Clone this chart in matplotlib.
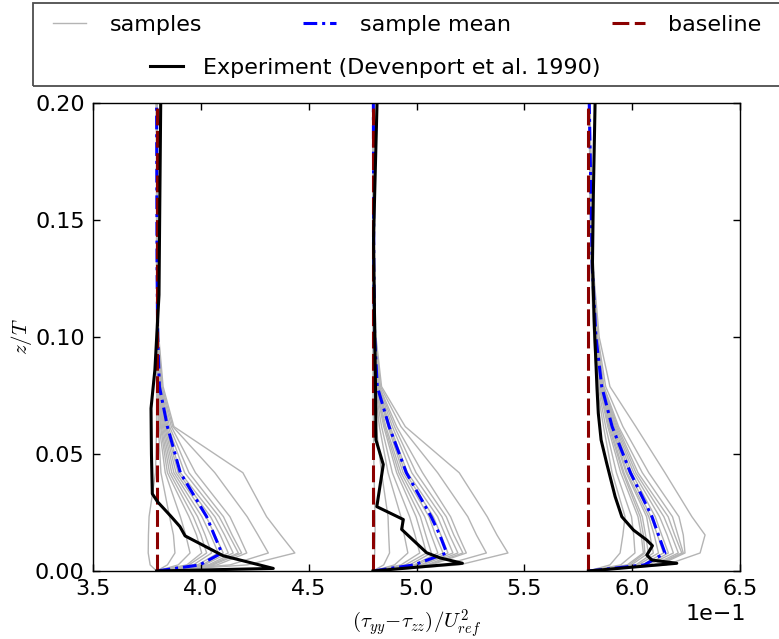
import numpy as np
import matplotlib
matplotlib.use("Agg")
import matplotlib.pyplot as plt
from matplotlib.patches import Rectangle

plt.rcParams['font.family'] = ['DejaVu Sans']
plt.rcParams['mathtext.fontset'] = 'cm'

# ---------------- data (x values in units of 1e-1, deviations from profile location) -------------
Z_LEVELS = [0.0, 0.0026, 0.0077, 0.0154, 0.0232, 0.042, 0.0617, 0.0788, 0.100, 0.130, 0.200]

PROFILE_LOCATIONS = [3.795, 4.798, 5.797]

SAMPLES_1 = [
    [0, -0.030, -0.039, -0.038, -0.035, -0.005, 0.000, 0.000, 0.000, 0.000, 0],
    [0, 0.050, 0.085, 0.078, 0.060, 0.020, 0.008, 0.003, 0.001, 0.000, 0],
    [0, 0.100, 0.155, 0.135, 0.110, 0.040, 0.012, 0.005, 0.002, 0.000, 0],
    [0, 0.140, 0.209, 0.185, 0.150, 0.050, 0.018, 0.006, 0.002, 0.001, 0],
    [0, 0.150, 0.232, 0.205, 0.170, 0.060, 0.022, 0.008, 0.003, 0.001, 0],
    [0, 0.170, 0.255, 0.225, 0.190, 0.070, 0.027, 0.009, 0.003, 0.001, 0],
    [0, 0.190, 0.286, 0.250, 0.210, 0.080, 0.032, 0.010, 0.004, 0.001, 0],
    [0, 0.210, 0.309, 0.270, 0.230, 0.090, 0.037, 0.012, 0.004, 0.001, 0],
    [0, 0.220, 0.332, 0.295, 0.250, 0.100, 0.042, 0.013, 0.005, 0.002, 0],
    [0, 0.240, 0.355, 0.315, 0.270, 0.110, 0.047, 0.015, 0.005, 0.002, 0],
    [0, 0.250, 0.379, 0.335, 0.290, 0.130, 0.053, 0.017, 0.006, 0.002, 0],
    [0, 0.260, 0.394, 0.350, 0.310, 0.150, 0.060, 0.019, 0.007, 0.002, 0],
    [0, 0.280, 0.418, 0.380, 0.340, 0.180, 0.068, 0.022, 0.008, 0.003, 0],
    [0, 0.340, 0.518, 0.470, 0.420, 0.270, 0.075, 0.025, 0.009, 0.003, 0],
    [0, 0.420, 0.641, 0.575, 0.510, 0.400, 0.080, 0.030, 0.010, 0.003, 0],
]

SAMPLES_2 = [
    [0, 0.005, 0.008, 0.010, 0.010, 0.005, 0.002, 0.000, 0.000, 0.000, 0],
    [0, 0.050, 0.077, 0.073, 0.070, 0.040, 0.015, 0.004, 0.002, 0.000, 0],
    [0, 0.100, 0.162, 0.145, 0.130, 0.070, 0.030, 0.008, 0.003, 0.001, 0],
    [0, 0.130, 0.217, 0.195, 0.170, 0.090, 0.040, 0.010, 0.004, 0.001, 0],
    [0, 0.150, 0.248, 0.225, 0.200, 0.110, 0.050, 0.012, 0.005, 0.002, 0],
    [0, 0.170, 0.271, 0.245, 0.220, 0.120, 0.055, 0.014, 0.006, 0.002, 0],
    [0, 0.190, 0.301, 0.270, 0.240, 0.130, 0.060, 0.016, 0.006, 0.002, 0],
    [0, 0.200, 0.325, 0.290, 0.260, 0.140, 0.070, 0.018, 0.007, 0.002, 0],
    [0, 0.220, 0.348, 0.315, 0.280, 0.150, 0.075, 0.020, 0.008, 0.003, 0],
    [0, 0.230, 0.371, 0.335, 0.300, 0.160, 0.080, 0.022, 0.008, 0.003, 0],
    [0, 0.250, 0.394, 0.355, 0.320, 0.180, 0.090, 0.025, 0.009, 0.003, 0],
    [0, 0.260, 0.417, 0.375, 0.340, 0.200, 0.100, 0.028, 0.010, 0.003, 0],
    [0, 0.270, 0.433, 0.395, 0.360, 0.230, 0.110, 0.030, 0.010, 0.004, 0],
    [0, 0.330, 0.526, 0.480, 0.440, 0.300, 0.130, 0.035, 0.012, 0.004, 0],
    [0, 0.400, 0.626, 0.575, 0.530, 0.400, 0.150, 0.040, 0.014, 0.005, 0],
]

SAMPLES_3 = [
    [0, 0.100, 0.147, 0.160, 0.170, 0.110, 0.070, 0.040, 0.025, 0.012, 0.003],
    [0, 0.150, 0.216, 0.210, 0.200, 0.130, 0.080, 0.045, 0.027, 0.013, 0.003],
    [0, 0.180, 0.255, 0.245, 0.230, 0.150, 0.090, 0.050, 0.029, 0.014, 0.003],
    [0, 0.190, 0.262, 0.255, 0.240, 0.160, 0.095, 0.052, 0.030, 0.015, 0.004],
    [0, 0.200, 0.278, 0.265, 0.250, 0.165, 0.100, 0.055, 0.031, 0.015, 0.004],
    [0, 0.220, 0.301, 0.285, 0.270, 0.175, 0.105, 0.057, 0.032, 0.016, 0.004],
    [0, 0.230, 0.325, 0.305, 0.280, 0.180, 0.110, 0.060, 0.034, 0.017, 0.004],
    [0, 0.250, 0.348, 0.320, 0.290, 0.190, 0.115, 0.062, 0.035, 0.018, 0.004],
    [0, 0.270, 0.371, 0.340, 0.310, 0.200, 0.120, 0.064, 0.036, 0.018, 0.004],
    [0, 0.280, 0.394, 0.365, 0.330, 0.210, 0.125, 0.066, 0.037, 0.019, 0.005],
    [0, 0.300, 0.417, 0.385, 0.350, 0.220, 0.130, 0.068, 0.038, 0.019, 0.005],
    [0, 0.310, 0.433, 0.400, 0.370, 0.230, 0.135, 0.070, 0.040, 0.020, 0.005],
    [0, 0.320, 0.440, 0.415, 0.390, 0.250, 0.140, 0.072, 0.041, 0.020, 0.005],
    [0, 0.330, 0.448, 0.440, 0.420, 0.280, 0.160, 0.080, 0.044, 0.021, 0.005],
    [0, 0.360, 0.518, 0.541, 0.480, 0.355, 0.220, 0.100, 0.050, 0.022, 0.006],
]

MEAN_1 = [0, 0.200, 0.302, 0.267, 0.232, 0.110, 0.050, 0.013, 0.005, 0.002, 0.000]
MEAN_2 = [0, 0.190, 0.342, 0.310, 0.270, 0.155, 0.075, 0.020, 0.008, 0.004, 0.002]
MEAN_3 = [0, 0.260, 0.355, 0.325, 0.295, 0.195, 0.110, 0.062, 0.035, 0.018, 0.004]

BASELINE_Z = [0.0, 0.2]
BASELINE_DEV = [0.0, 0.0]

EXP_Z_1 = [0, 0.0011, 0.0065, 0.0150, 0.0190, 0.0235, 0.0295, 0.0330, 0.050, 0.0695, 0.0860, 0.118, 0.160, 0.200]
EXP_DEV_1 = [0, 0.541, 0.309, 0.132, 0.108, 0.065, 0.005, -0.020, -0.024, -0.026, -0.008, 0.011, 0.015, 0.019]

EXP_Z_2 = [0, 0.0033, 0.0056, 0.0078, 0.0178, 0.0220, 0.0275, 0.0455, 0.056, 0.078, 0.104, 0.142, 0.161, 0.200]
EXP_DEV_2 = [0, 0.415, 0.311, 0.249, 0.133, 0.141, 0.018, 0.048, 0.014, 0.012, 0.008, 0.003, 0.008, 0.019]

EXP_Z_3 = [0, 0.0033, 0.0047, 0.0068, 0.0108, 0.0132, 0.0175, 0.0232, 0.0318, 0.046, 0.056, 0.0674, 0.078, 0.104, 0.132, 0.161, 0.200]
EXP_DEV_3 = [0, 0.410, 0.294, 0.271, 0.297, 0.271, 0.209, 0.155, 0.124, 0.085, 0.059, 0.046, 0.040, 0.028, 0.019, 0.023, 0.031]

SCALE = 1e-1

# ---------------- figure -------------
W, H = 779, 639
fig = plt.figure(figsize=(W / 100, H / 100), dpi=100)
ax = fig.add_axes([93 / W, 1 - 571 / H, (740 - 93) / W, (571 - 103) / H])

Z = np.array(Z_LEVELS)
profiles = [
    (SAMPLES_1, MEAN_1, EXP_Z_1, EXP_DEV_1),
    (SAMPLES_2, MEAN_2, EXP_Z_2, EXP_DEV_2),
    (SAMPLES_3, MEAN_3, EXP_Z_3, EXP_DEV_3),
]

h_s = h_m = h_b = h_e = None
for loc, (samples, mean, ez, ed) in zip(PROFILE_LOCATIONS, profiles):
    for s in samples:
        h_s, = ax.plot((loc + np.array(s)) * SCALE, Z, color='#b4b4b4', lw=1.0, zorder=1)
    h_m, = ax.plot((loc + np.array(mean)) * SCALE, Z, color='#0000ff', lw=2.2,
                   dashes=(4.5, 1.6, 1.0, 1.6), zorder=2)
    h_b, = ax.plot((loc + np.array(BASELINE_DEV)) * SCALE, BASELINE_Z, color='#8b0000',
                   lw=2.2, dashes=(5.5, 1.8), zorder=3)
    h_e, = ax.plot((loc + np.array(ed)) * SCALE, ez, color='k', lw=2.2, zorder=4)

ax.set_xlim(0.35, 0.65)
ax.set_ylim(0.0, 0.2)
ax.set_xticks(np.linspace(0.35, 0.65, 7))
ax.set_yticks(np.linspace(0.0, 0.2, 5))
ax.ticklabel_format(axis='x', style='sci', scilimits=(0, 0))
ax.tick_params(direction='in', top=True, right=True, length=5, width=1,
               labelsize=16, pad=6)
ax.xaxis.get_offset_text().set_fontsize(16)
ax.xaxis.get_offset_text().set_x(1.01)
for sp in ax.spines.values():
    sp.set_linewidth(1.0)

ax.set_xlabel(r'$(\tau_{yy}{-}\tau_{zz})/U_{ref}^2$', fontsize=15, labelpad=6)
ax.set_ylabel(r'$z/T$', fontsize=15, labelpad=1)

# ---------------- legend -------------
leg_kw = dict(frameon=False, fontsize=16, handlelength=1.5, borderpad=0,
              borderaxespad=0, loc='center left')
fig.legend([h_s, h_m, h_b], ['samples', 'sample mean', 'baseline'], ncol=3,
           bbox_to_anchor=(53 / W, 1 - 25 / H), handletextpad=1.04,
           columnspacing=4.55, **leg_kw)
fig.legend([h_e], ['Experiment (Devenport et al. 1990)'],
           bbox_to_anchor=(150 / W, 1 - 68 / H), handletextpad=0.9, **leg_kw)
fig.add_artist(Rectangle((33 / W, 1 - 86 / H), (806 - 33) / W, 83 / H,
                         transform=fig.transFigure, fill=False,
                         edgecolor='0.3', lw=1.3))

fig.savefig('out.png', dpi=100)
